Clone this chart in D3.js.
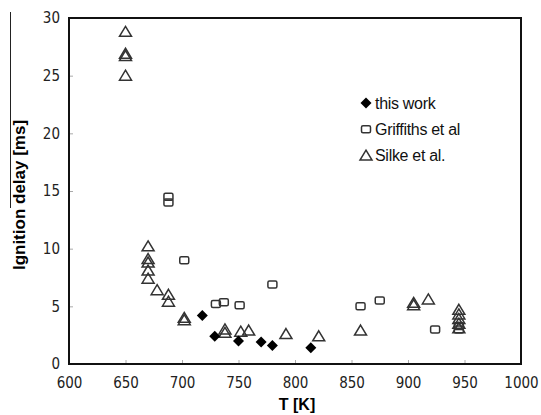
<!DOCTYPE html>
<html>
<head>
<meta charset="utf-8">
<script src="https://d3js.org/d3.v7.min.js"></script>
<style>
  html, body { margin: 0; padding: 0; background: #fff; }
  svg { display: block; }
</style>
</head>
<body>
<div id="chart"></div>
<script>
// data
const thisWorkT = [718, 729, 750, 770, 780, 814];
const thisWorkDelay = [4.2, 2.4, 2.0, 1.9, 1.6, 1.4];

const griffithsT = [688, 688, 702, 730, 737, 751, 780, 858, 875, 924, 945, 945];
const griffithsDelay = [14.5, 14.0, 9.0, 5.2, 5.35, 5.1, 6.9, 5.0, 5.5, 3.0, 3.3, 3.0];

const silkeT = [650, 650, 650, 650, 670, 670, 670, 670, 670, 678, 688, 688, 702, 702,
  738, 738, 752, 759, 792, 821, 858, 905, 905, 918, 945, 945, 945, 945, 945];
const silkeDelay = [28.8, 26.9, 26.7, 25.0, 10.2, 9.1, 8.8, 8.1, 7.4, 6.4, 6.0, 5.4, 4.0, 3.8,
  3.0, 2.7, 2.8, 2.9, 2.6, 2.4, 2.9, 5.3, 5.1, 5.6, 4.7, 4.3, 3.9, 3.5, 3.1];

const xTicks = [600, 650, 700, 750, 800, 850, 900, 950, 1000];
const yTicks = [0, 5, 10, 15, 20, 25, 30];
const legendNames = ["this work", "Griffiths et al", "Silke et al."];

const width = 541, height = 415;
const plotLeft = 69, plotRight = 521, plotTop = 18, plotBottom = 364;

const svg = d3.select("#chart").append("svg")
  .attr("width", width)
  .attr("height", height);

const x = d3.scaleLinear().domain([600, 1000]).range([plotLeft, plotRight]);
const y = d3.scaleLinear().domain([0, 30]).range([plotBottom, plotTop]);

const tickFont = "'DejaVu Sans Condensed', 'DejaVu Sans', sans-serif";

// axes with small grey ticks pointing inside
const xAxis = d3.axisBottom(x).tickValues(xTicks).tickFormat(d3.format("d"))
  .tickSizeInner(-4).tickSizeOuter(0).tickPadding(13);
const yAxis = d3.axisLeft(y).tickValues(yTicks).tickFormat(d3.format("d"))
  .tickSizeInner(-4).tickSizeOuter(0).tickPadding(9);

const gx = svg.append("g").attr("transform", `translate(0,${plotBottom})`).call(xAxis);
const gy = svg.append("g").attr("transform", `translate(${plotLeft},0)`).call(yAxis);

[gx, gy].forEach(g => {
  g.select(".domain").remove();
  g.selectAll(".tick line").attr("stroke", "#aaa").attr("stroke-width", 1);
  g.selectAll(".tick text")
    .attr("font-family", tickFont)
    .attr("font-stretch", "condensed")
    .attr("font-size", "15px")
    .attr("fill", "#222");
});

// plot frame
svg.append("rect")
  .attr("x", plotLeft).attr("y", plotTop)
  .attr("width", plotRight - plotLeft).attr("height", plotBottom - plotTop)
  .attr("fill", "none")
  .attr("stroke", "#111")
  .attr("stroke-width", 2);

// stray line at the left edge of the scan
svg.append("line")
  .attr("x1", 10.5).attr("x2", 10.5).attr("y1", 12).attr("y2", 208)
  .attr("stroke", "#222").attr("stroke-width", 1);

// axis titles
svg.append("text")
  .attr("transform", `translate(25,${(plotTop + plotBottom) / 2 + 4}) rotate(-90)`)
  .attr("text-anchor", "middle")
  .attr("font-family", "'Liberation Sans', Arial, sans-serif")
  .attr("font-weight", "bold")
  .attr("font-size", "17px")
  .attr("fill", "#000")
  .text("Ignition delay [ms]");

svg.append("text")
  .attr("x", 297).attr("y", 410)
  .attr("text-anchor", "middle")
  .attr("font-family", "'Liberation Sans', Arial, sans-serif")
  .attr("font-weight", "bold")
  .attr("font-size", "16px")
  .text("T [K]");

// marker shapes
const triPath = "M0,-5.5L6,4.5L-6,4.5Z";
const diaPath = "M0,-5.5L5.5,0L0,5.5L-5.5,0Z";

function drawTri(g, cx, cy) {
  g.append("path").attr("d", triPath)
    .attr("transform", `translate(${cx},${cy})`)
    .attr("fill", "none").attr("stroke", "#333").attr("stroke-width", 1.5);
}
function drawSq(g, cx, cy) {
  g.append("rect")
    .attr("x", cx - 4.5).attr("y", cy - 3.5)
    .attr("width", 9).attr("height", 7).attr("rx", 1.5)
    .attr("fill", "none").attr("stroke", "#333").attr("stroke-width", 1.5);
}
function drawDia(g, cx, cy) {
  g.append("path").attr("d", diaPath)
    .attr("transform", `translate(${cx},${cy})`)
    .attr("fill", "#000");
}

const marks = svg.append("g");
silkeT.forEach((t, i) => drawTri(marks, x(t), y(silkeDelay[i])));
griffithsT.forEach((t, i) => drawSq(marks, x(t), y(griffithsDelay[i])));
thisWorkT.forEach((t, i) => drawDia(marks, x(t), y(thisWorkDelay[i])));

// legend
const legend = svg.append("g");
const drawers = [drawDia, drawSq, drawTri];
legendNames.forEach((name, i) => {
  const ly = 103 + i * 26.3;
  drawers[i](legend, 366, ly);
  legend.append("text")
    .attr("x", 375).attr("y", ly + 5.5)
    .attr("font-family", "'Liberation Sans', Arial, sans-serif")
    .attr("font-size", "16px")
    .attr("letter-spacing", "-0.3px")
    .attr("fill", "#111")
    .text(name);
});
</script>
</body>
</html>
